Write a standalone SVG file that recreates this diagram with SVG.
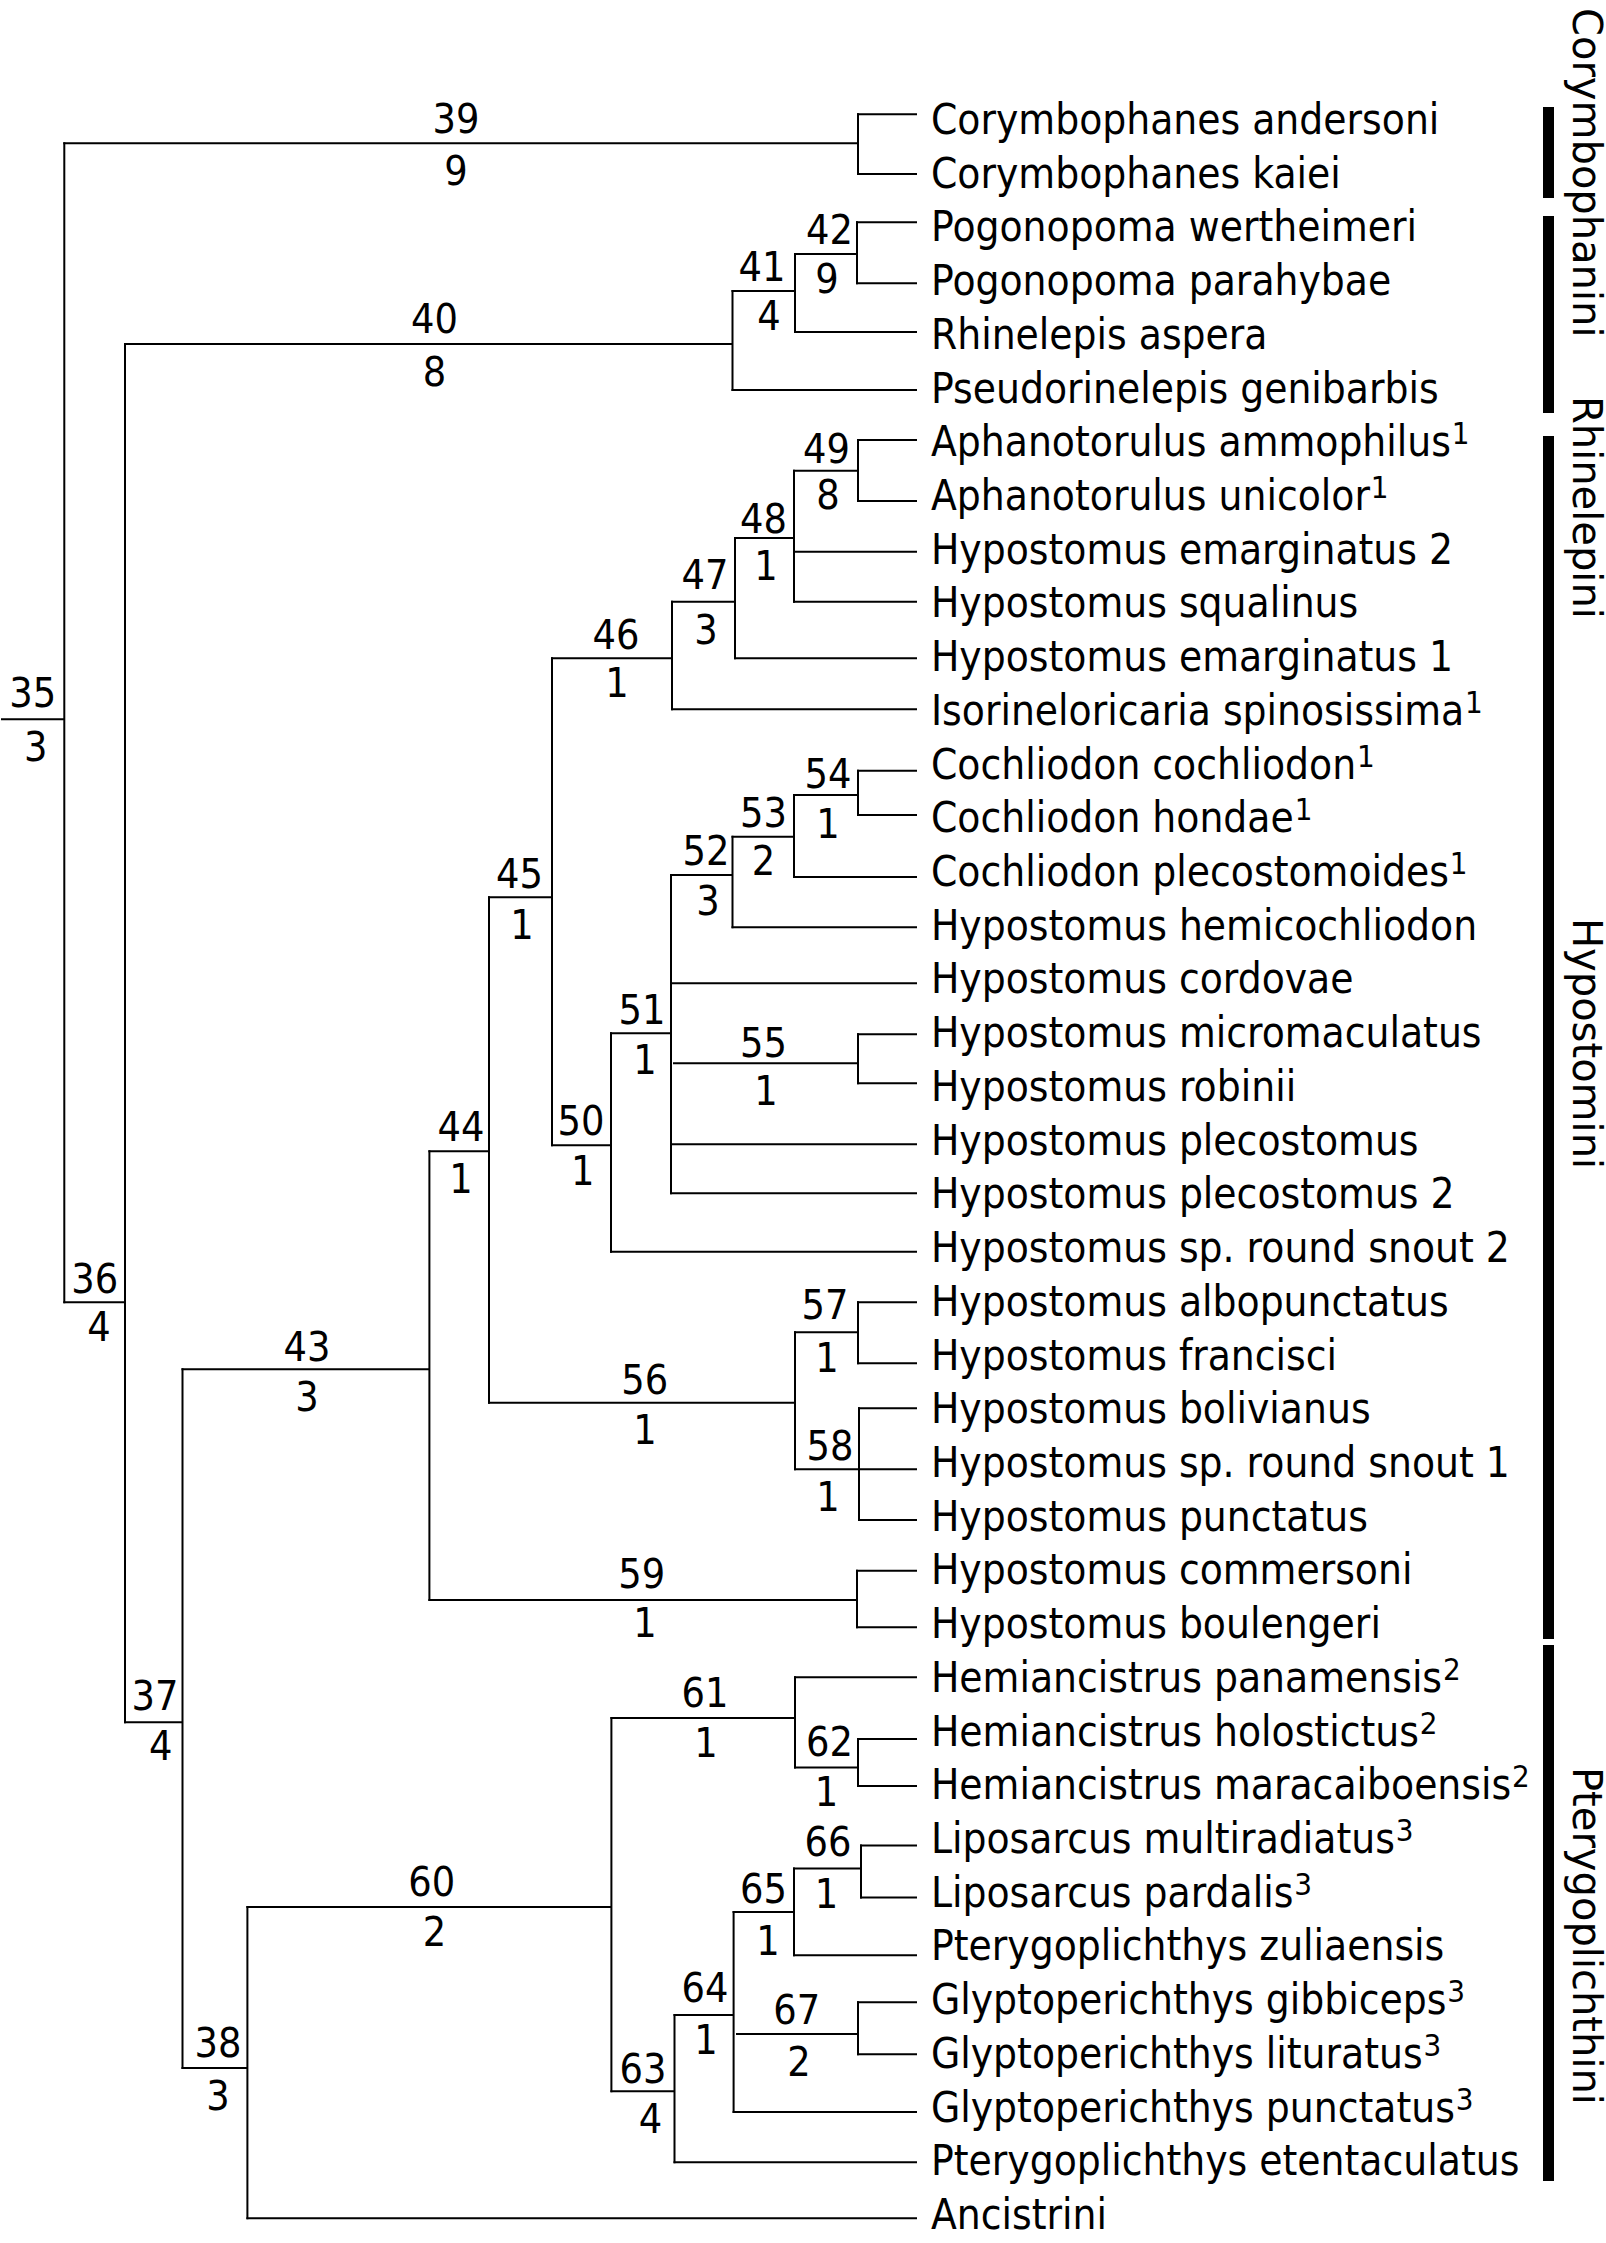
<svg xmlns="http://www.w3.org/2000/svg" width="1606" height="2243" viewBox="0 0 1606 2243">
<style>
.e{fill:none;stroke:#000;stroke-width:2;stroke-linecap:square}
.t{font-family:"DejaVu Sans","Liberation Sans",sans-serif;font-size:42px;fill:#000}
.n{font-family:"DejaVu Sans","Liberation Sans",sans-serif;font-size:41px;fill:#000;text-anchor:middle}
.s{font-size:31px}
.c{font-family:"DejaVu Sans","Liberation Sans",sans-serif;font-size:40px;fill:#000}
.bar{fill:#000}
</style>
<rect width="1606" height="2243" fill="#fff"/>
<g id="connectors">
<path class="e" d="M2 719.3H64.3M64.3 143.3V1302.3"/>
<path class="e" d="M64.3 143.3H858M858 114.3V174"/>
<path class="e" d="M64.3 1302.3H125M125 344V1722.3"/>
<path class="e" d="M125 344H732.5M732.5 291V390"/>
<path class="e" d="M732.5 291H795M795 254V332"/>
<path class="e" d="M795 254H857M857 222.3V283.3"/>
<path class="e" d="M125 1722.3H182.5M182.5 1369.3V2068"/>
<path class="e" d="M182.5 1369.3H429.4M429.4 1151.3V1600"/>
<path class="e" d="M429.4 1151.3H489M489 897.3V1402.7"/>
<path class="e" d="M489 897.3H552M552 658.3V1145.3"/>
<path class="e" d="M552 658.3H672M672 601.7V709.3"/>
<path class="e" d="M672 601.7H735M735 538V658.3"/>
<path class="e" d="M735 538H794M794 470.7V601.7"/>
<path class="e" d="M794 470.7H858M858 440V501"/>
<path class="e" d="M552 1145.3H611M611 1033.3V1251.7"/>
<path class="e" d="M611 1033.3H671M671 875V1193.3"/>
<path class="e" d="M671 875H732.5M732.5 836.7V927.3"/>
<path class="e" d="M732.5 836.7H794M794 795V877"/>
<path class="e" d="M794 795H858M858 770.7V815"/>
<path class="e" d="M674 1063.3H858M858 1034.3V1083.3"/>
<path class="e" d="M489 1402.7H795M795 1332.3V1469.3"/>
<path class="e" d="M795 1332.3H858M858 1302.3V1363.3"/>
<path class="e" d="M795 1469.3H859M859 1408.3V1520"/>
<path class="e" d="M429.4 1600H857M857 1570.7V1627.3"/>
<path class="e" d="M182.5 2068H247.4M247.4 1907V2218.3"/>
<path class="e" d="M247.4 1907H611.4M611.4 1718V2091.3"/>
<path class="e" d="M611.4 1718H795M795 1677.3V1767.5"/>
<path class="e" d="M795 1767.5H858M858 1739V1786"/>
<path class="e" d="M611.4 2091.3H674.5M674.5 2015V2162.3"/>
<path class="e" d="M674.5 2015H733.6M733.6 1912V2112"/>
<path class="e" d="M733.6 1912H794M794 1868.6V1955.2"/>
<path class="e" d="M794 1868.6H861M861 1845.4V1897.4"/>
<path class="e" d="M737 2034H858M858 2002.3V2054.2"/>
<path class="e" d="M858 114.3H916M858 174H916M857 222.3H916M857 283.3H916M795 332H916M732.5 390H916"/>
<path class="e" d="M858 440H916M858 501H916M794 551.7H916M794 601.7H916M735 658.3H916M672 709.3H916"/>
<path class="e" d="M858 770.7H916M858 815H916M794 877H916M732.5 927.3H916M671 983.3H916"/>
<path class="e" d="M858 1034.3H916M858 1083.3H916M671 1144.3H916M671 1193.3H916M611 1251.7H916"/>
<path class="e" d="M858 1302.3H916M858 1363.3H916M859 1408.3H916M859 1469.3H916M859 1520H916"/>
<path class="e" d="M857 1570.7H916M857 1627.3H916M795 1677.3H916M858 1739H916M858 1786H916"/>
<path class="e" d="M861 1845.4H916M861 1897.4H916M794 1955.2H916M858 2002.3H916M858 2054.2H916"/>
<path class="e" d="M733.6 2112H916M674.5 2162.3H916M247.4 2218.3H916"/>
</g>
<g transform="scale(0.9,1)">
<g id="node35"><text class="n" x="36.3" y="707">35</text><text class="n" x="39.6" y="760.7">3</text></g>
<g id="node36"><text class="n" x="105.2" y="1292.7">36</text><text class="n" x="110" y="1340.7">4</text></g>
<g id="node37"><text class="n" x="172.2" y="1710">37</text><text class="n" x="178.6" y="1759.6">4</text></g>
<g id="node38"><text class="n" x="242.2" y="2056.6">38</text><text class="n" x="242.2" y="2110.3">3</text></g>
<g id="node39"><text class="n" x="506.7" y="133">39</text><text class="n" x="506.7" y="185">9</text></g>
<g id="node40"><text class="n" x="482.9" y="333">40</text><text class="n" x="482.9" y="386">8</text></g>
<g id="node41"><text class="n" x="846.7" y="281">41</text><text class="n" x="854.4" y="330">4</text></g>
<g id="node42"><text class="n" x="921.7" y="244">42</text><text class="n" x="918.9" y="293">9</text></g>
<g id="node43"><text class="n" x="341.1" y="1361">43</text><text class="n" x="341.1" y="1410.7">3</text></g>
<g id="node44"><text class="n" x="512.2" y="1140.7">44</text><text class="n" x="512.2" y="1193">1</text></g>
<g id="node45"><text class="n" x="577.2" y="888">45</text><text class="n" x="580" y="939">1</text></g>
<g id="node46"><text class="n" x="684.4" y="649">46</text><text class="n" x="685.6" y="697">1</text></g>
<g id="node47"><text class="n" x="783.3" y="589">47</text><text class="n" x="784.4" y="644">3</text></g>
<g id="node48"><text class="n" x="848.3" y="532.7">48</text><text class="n" x="851.1" y="580">1</text></g>
<g id="node49"><text class="n" x="918.4" y="462.7">49</text><text class="n" x="920" y="509">8</text></g>
<g id="node50"><text class="n" x="645.6" y="1135">50</text><text class="n" x="647.4" y="1185">1</text></g>
<g id="node51"><text class="n" x="713.3" y="1024">51</text><text class="n" x="716.7" y="1074">1</text></g>
<g id="node52"><text class="n" x="784.4" y="865">52</text><text class="n" x="786.7" y="915">3</text></g>
<g id="node53"><text class="n" x="848.3" y="827">53</text><text class="n" x="848.3" y="875">2</text></g>
<g id="node54"><text class="n" x="920" y="788">54</text><text class="n" x="920" y="838">1</text></g>
<g id="node55"><text class="n" x="848.3" y="1056.7">55</text><text class="n" x="851.1" y="1105">1</text></g>
<g id="node56"><text class="n" x="716.3" y="1394.3">56</text><text class="n" x="716.7" y="1444">1</text></g>
<g id="node57"><text class="n" x="916.7" y="1319">57</text><text class="n" x="918.9" y="1371.7">1</text></g>
<g id="node58"><text class="n" x="922.2" y="1460">58</text><text class="n" x="920" y="1510.7">1</text></g>
<g id="node59"><text class="n" x="713.1" y="1588.3">59</text><text class="n" x="716.7" y="1637.3">1</text></g>
<g id="node60"><text class="n" x="479.7" y="1895.6">60</text><text class="n" x="482.9" y="1945.8">2</text></g>
<g id="node61"><text class="n" x="783.3" y="1707">61</text><text class="n" x="784.4" y="1757">1</text></g>
<g id="node62"><text class="n" x="921.7" y="1756.4">62</text><text class="n" x="918.4" y="1805.6">1</text></g>
<g id="node63"><text class="n" x="714.4" y="2082.6">63</text><text class="n" x="722.7" y="2132.8">4</text></g>
<g id="node64"><text class="n" x="783.3" y="2002">64</text><text class="n" x="784.4" y="2053.9">1</text></g>
<g id="node65"><text class="n" x="848.3" y="1902.6">65</text><text class="n" x="853.3" y="1955">1</text></g>
<g id="node66"><text class="n" x="920" y="1856.5">66</text><text class="n" x="918.4" y="1907.7">1</text></g>
<g id="node67"><text class="n" x="885.3" y="2023.7">67</text><text class="n" x="887.8" y="2075.7">2</text></g>

<g id="taxa">
<text id="t0" class="t" x="1034.4" y="134">Corymbophanes andersoni</text>
<text id="t1" class="t" x="1034.4" y="187.7">Corymbophanes kaiei</text>
<text id="t2" class="t" x="1034.4" y="241.4">Pogonopoma wertheimeri</text>
<text id="t3" class="t" x="1034.4" y="295.2">Pogonopoma parahybae</text>
<text id="t4" class="t" x="1034.4" y="348.9">Rhinelepis aspera</text>
<text id="t5" class="t" x="1034.4" y="402.6">Pseudorinelepis genibarbis</text>
<text id="t6" class="t" x="1034.4" y="456.3">Aphanotorulus ammophilus<tspan class="s" dx="1" dy="-12">1</tspan></text>
<text id="t7" class="t" x="1034.4" y="510">Aphanotorulus unicolor<tspan class="s" dx="1" dy="-12">1</tspan></text>
<text id="t8" class="t" x="1034.4" y="563.8">Hypostomus emarginatus 2</text>
<text id="t9" class="t" x="1034.4" y="617.5">Hypostomus squalinus</text>
<text id="t10" class="t" x="1034.4" y="671.2">Hypostomus emarginatus 1</text>
<text id="t11" class="t" x="1034.4" y="724.9">Isorineloricaria spinosissima<tspan class="s" dx="1" dy="-12">1</tspan></text>
<text id="t12" class="t" x="1034.4" y="778.6">Cochliodon cochliodon<tspan class="s" dx="1" dy="-12">1</tspan></text>
<text id="t13" class="t" x="1034.4" y="832.4">Cochliodon hondae<tspan class="s" dx="1" dy="-12">1</tspan></text>
<text id="t14" class="t" x="1034.4" y="886.1">Cochliodon plecostomoides<tspan class="s" dx="1" dy="-12">1</tspan></text>
<text id="t15" class="t" x="1034.4" y="939.8">Hypostomus hemicochliodon</text>
<text id="t16" class="t" x="1034.4" y="993.5">Hypostomus cordovae</text>
<text id="t17" class="t" x="1034.4" y="1047.2">Hypostomus micromaculatus</text>
<text id="t18" class="t" x="1034.4" y="1101">Hypostomus robinii</text>
<text id="t19" class="t" x="1034.4" y="1154.7">Hypostomus plecostomus</text>
<text id="t20" class="t" x="1034.4" y="1208.4">Hypostomus plecostomus 2</text>
<text id="t21" class="t" x="1034.4" y="1262.1">Hypostomus sp. round snout 2</text>
<text id="t22" class="t" x="1034.4" y="1315.8">Hypostomus albopunctatus</text>
<text id="t23" class="t" x="1034.4" y="1369.6">Hypostomus francisci</text>
<text id="t24" class="t" x="1034.4" y="1423.3">Hypostomus bolivianus</text>
<text id="t25" class="t" x="1034.4" y="1477">Hypostomus sp. round snout 1</text>
<text id="t26" class="t" x="1034.4" y="1530.7">Hypostomus punctatus</text>
<text id="t27" class="t" x="1034.4" y="1584.4">Hypostomus commersoni</text>
<text id="t28" class="t" x="1034.4" y="1638.2">Hypostomus boulengeri</text>
<text id="t29" class="t" x="1034.4" y="1691.9">Hemiancistrus panamensis<tspan class="s" dx="1" dy="-12">2</tspan></text>
<text id="t30" class="t" x="1034.4" y="1745.6">Hemiancistrus holostictus<tspan class="s" dx="1" dy="-12">2</tspan></text>
<text id="t31" class="t" x="1034.4" y="1799.3">Hemiancistrus maracaiboensis<tspan class="s" dx="1" dy="-12">2</tspan></text>
<text id="t32" class="t" x="1034.4" y="1853">Liposarcus multiradiatus<tspan class="s" dx="1" dy="-12">3</tspan></text>
<text id="t33" class="t" x="1034.4" y="1906.8">Liposarcus pardalis<tspan class="s" dx="1" dy="-12">3</tspan></text>
<text id="t34" class="t" x="1034.4" y="1960.5">Pterygoplichthys zuliaensis</text>
<text id="t35" class="t" x="1034.4" y="2014.2">Glyptoperichthys gibbiceps<tspan class="s" dx="1" dy="-12">3</tspan></text>
<text id="t36" class="t" x="1034.4" y="2067.9">Glyptoperichthys lituratus<tspan class="s" dx="1" dy="-12">3</tspan></text>
<text id="t37" class="t" x="1034.4" y="2121.6">Glyptoperichthys punctatus<tspan class="s" dx="1" dy="-12">3</tspan></text>
<text id="t38" class="t" x="1034.4" y="2175.4">Pterygoplichthys etentaculatus</text>
<text id="t39" class="t" x="1034.4" y="2229.1">Ancistrini</text>
</g>
</g>
<g id="clades">
<g id="corymbophanini"><rect class="bar" x="1543" y="107" width="11" height="91"/><text class="c" transform="translate(1573,8) rotate(90)">Corymbophanini</text></g>
<g id="rhinelepini"><rect class="bar" x="1543" y="216" width="11" height="197"/><text class="c" transform="translate(1573,396) rotate(90)">Rhinelepini</text></g>
<g id="hypostomini"><rect class="bar" x="1543" y="436" width="11" height="1203"/><text class="c" transform="translate(1573,918) rotate(90)">Hypostomini</text></g>
<g id="pterygoplichthini"><rect class="bar" x="1543" y="1645" width="11" height="536"/><text class="c" transform="translate(1573,1767) rotate(90)">Pterygoplichthini</text></g>
</g>
</svg>
